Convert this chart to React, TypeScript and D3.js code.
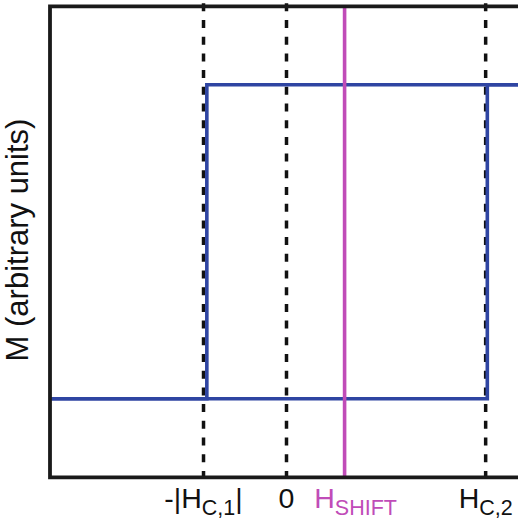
import React from "react";
import * as d3 from "d3";

const W = 518;
const H = 523;

// Field values (H, in units of |H_C,1|)
const fieldDomain = [-2.85, 2.85];
const magDomain = [-1.5, 1.5];
const hc1 = -1;
const hc2 = 2.4;
const hshift = (hc1 + hc2) / 2;
const guideLines = [hc1, 0, hc2];

// Hysteresis loop branches
const lowerBranchH = [-2.85, 2.42, 2.42, 2.85];
const lowerBranchM = [-1, -1, 1, 1];
const upperBranchH = [2.85, -0.96, -0.96, -2.85];
const upperBranchM = [1, 1, -1, -1];

const tickLabels = [
  { v: hc1, main: "-|H", sub: "C,1", tail: "|", color: "#111" },
  { v: 0, main: "0", sub: "", tail: "", color: "#111" },
  { v: hshift, main: "H", sub: "SHIFT", tail: "", color: "#c04cb8", dx: 11 },
  { v: hc2, main: "H", sub: "C,2", tail: "", color: "#111" },
];

export default function App() {
  const x = d3.scaleLinear().domain(fieldDomain).range([50, 523]);
  const y = d3.scaleLinear().domain(magDomain).range([477.3, 6.3]);
  const line = d3
    .line<[number, number]>()
    .x((d) => x(d[0]))
    .y((d) => y(d[1]));
  const lower = lowerBranchH.map((h, i) => [h, lowerBranchM[i]] as [number, number]);
  const upper = upperBranchH.map((h, i) => [h, upperBranchM[i]] as [number, number]);
  const [y0, y1] = [y(magDomain[0]), y(magDomain[1])];
  const font = "'Liberation Sans', Arial, sans-serif";

  return (
    <svg
      width={W}
      height={H}
      style={{ position: "absolute", left: 0, top: 0, background: "#fff" }}
      fontFamily={font}
    >
      {guideLines.map((g, i) => (
        <line
          key={i}
          x1={x(g)}
          x2={x(g)}
          y1={y1 - 3}
          y2={y0}
          stroke="#111"
          strokeWidth={3.5}
          strokeDasharray="8,8.7"
        />
      ))}
      <path d={line(lower) || ""} fill="none" stroke="#2f45a2" strokeWidth={3.6} />
      <path d={line(upper) || ""} fill="none" stroke="#2f45a2" strokeWidth={3.6} />
      <line
        x1={x(hshift)}
        x2={x(hshift)}
        y1={y1}
        y2={y0}
        stroke="#c04cb8"
        strokeWidth={3.6}
      />
      <path
        d={`M${x(fieldDomain[1]) + 5},${y1}H${x(fieldDomain[0])}V${y0}H${x(fieldDomain[1]) + 5}`}
        fill="none"
        stroke="#1a1a1a"
        strokeWidth={3.8}
        strokeLinecap="square"
      />
      {tickLabels.map((t, i) => (
        <text
          key={i}
          x={x(t.v) + (t.dx || 0)}
          y={508}
          textAnchor="middle"
          fontSize={28.5}
          fill={t.color}
        >
          {t.main}
          {t.sub && (
            <tspan fontSize={21.5} dy={7}>
              {t.sub}
            </tspan>
          )}
          {t.tail && (
            <tspan dy={-7}>{t.tail}</tspan>
          )}
        </text>
      ))}
      <text
        transform={`translate(28,240) rotate(-90)`}
        textAnchor="middle"
        fontSize={31}
        fill="#111"
      >
        M (arbitrary units)
      </text>
    </svg>
  );
}
